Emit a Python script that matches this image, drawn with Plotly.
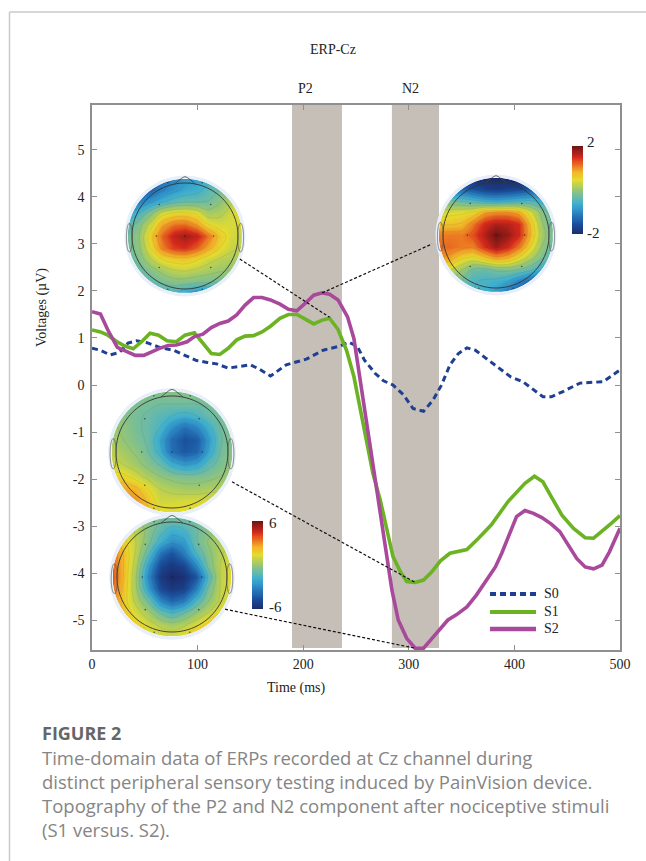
import numpy as np
import plotly.graph_objects as go

W, H = 646, 861
# ---------- data ----------
s0_t = [0,8,17,26,34,42,52,64,77,90,99,109,118,129,140,150,159,169,184,203,219,235,243,251,258,268,276,285,295,304,314,323,331,339,347,355,363,374,386,396,408,418,427,435,446,462,473,484,500]
s0_v = [0.78,0.74,0.64,0.69,0.89,0.94,0.90,0.80,0.74,0.62,0.52,0.48,0.45,0.36,0.40,0.43,0.33,0.19,0.43,0.55,0.74,0.83,0.91,0.83,0.53,0.25,0.09,0.0,-0.21,-0.50,-0.56,-0.32,0.0,0.43,0.67,0.79,0.74,0.55,0.36,0.18,0.07,-0.09,-0.25,-0.25,-0.14,0.04,0.06,0.07,0.32]
s1_t = [0,8,15,23,31,39,47,55,63,71,80,88,97,105,113,121,129,137,145,153,161,169,178,186,194,202,210,218,225,233,241,248,254,260,266,273,279,285,292,298,306,314,322,330,339,355,366,378,394,410,419,427,435,445,456,467,475,483,492,500]
s1_v = [1.17,1.13,1.06,0.93,0.83,0.77,0.92,1.10,1.06,0.94,0.92,1.06,1.11,0.89,0.67,0.65,0.78,0.96,1.04,1.05,1.13,1.25,1.42,1.50,1.50,1.40,1.30,1.38,1.42,1.18,0.74,0.18,-0.53,-1.24,-1.88,-2.45,-3.08,-3.65,-3.97,-4.18,-4.20,-4.15,-3.97,-3.74,-3.58,-3.50,-3.26,-2.98,-2.48,-2.09,-1.94,-2.06,-2.38,-2.77,-3.05,-3.25,-3.26,-3.12,-2.94,-2.78]
s2_t = [0,8,15,24,33,41,49,56,64,72,80,90,97,105,113,121,129,137,145,153,161,169,178,186,194,202,210,218,225,233,242,248,252,258,265,271,278,284,290,298,306,314,322,330,337,345,355,364,374,382,388,394,402,410,418,426,435,443,451,459,467,475,483,490,495,500]
s2_v = [1.56,1.51,1.17,0.80,0.71,0.63,0.63,0.71,0.78,0.84,0.85,0.92,1.03,1.08,1.22,1.31,1.36,1.49,1.70,1.86,1.86,1.81,1.72,1.61,1.58,1.74,1.91,1.96,1.93,1.81,1.45,0.99,0.39,-0.53,-1.53,-2.52,-3.58,-4.36,-5.0,-5.39,-5.60,-5.60,-5.39,-5.18,-5.0,-4.89,-4.72,-4.47,-4.15,-3.87,-3.58,-3.23,-2.80,-2.67,-2.73,-2.82,-2.96,-3.12,-3.40,-3.69,-3.87,-3.91,-3.83,-3.55,-3.30,-3.05]
x_ticks = [0,100,200,300,400,500]
y_ticks = [-5,-4,-3,-2,-1,0,1,2,3,4,5]
y_labels = ["-5","-4","-3","-2","-1","0","1","2","3","4","5"]
p2_band = [189.4,236.7]
n2_band = [284,328.6]

# topographies, percent of colour limit, rows from front (top) to back
topo_p2_s1 = [
[-70,-72,-68,-60,-50,-42,-38,-30,-20,-10,-5],
[-78,-72,-65,-52,-42,-34,-30,-20,-12,0,8],
[-65,-52,-40,-28,-18,-14,-14,-12,-2,10,18],
[-38,-25,-5,18,26,28,22,5,8,18,22],
[-20,-6,18,45,58,60,48,26,20,20,20],
[-12,0,32,60,80,88,80,58,32,20,14],
[-12,-2,26,54,70,74,62,44,26,16,12],
[-16,-8,12,26,32,34,28,18,12,8,5],
[-25,-16,-6,4,12,14,10,6,2,0,-5],
[-40,-30,-18,-10,-5,-5,-8,-10,-12,-15,-20],
[-50,-45,-35,-25,-25,-35,-45,-45,-40,-35,-30]]
topo_p2_s2 = [
[-70,-80,-90,-95,-100,-100,-100,-100,-95,-85,-70],
[-45,-55,-65,-75,-85,-88,-85,-80,-70,-60,-50],
[-8,-12,-16,-22,-30,-34,-30,-26,-24,-30,-35],
[15,20,22,26,45,50,50,42,18,-5,-20],
[35,35,38,56,76,84,82,74,34,2,-15],
[55,56,56,66,84,100,90,76,38,6,-12],
[60,60,56,54,74,88,76,56,26,0,-15],
[50,45,28,22,34,46,40,24,6,-10,-25],
[30,15,2,-14,-16,-10,-8,-12,-20,-35,-45],
[10,0,-12,-24,-26,-28,-35,-50,-65,-70,-70],
[5,-5,-15,-25,-30,-40,-55,-70,-85,-85,-80]]
topo_n2_s1 = [
[-5,-5,-5,-5,-5,-5,-5,-5,-5,-5,-5],
[0,-5,-8,-10,-12,-12,-12,-12,-10,-8,-5],
[0,-5,-10,-14,-20,-25,-30,-25,-15,-10,-5],
[2,-2,-10,-15,-25,-45,-60,-50,-30,-12,-5],
[5,0,-8,-14,-35,-62,-75,-70,-40,-14,-5],
[12,5,-2,-12,-30,-60,-72,-65,-35,-12,-3],
[18,12,5,-5,-14,-30,-40,-35,-18,-8,0],
[30,28,18,8,0,-5,-8,-8,-5,0,5],
[45,45,40,25,12,8,5,5,8,10,12],
[55,55,50,35,18,18,20,20,20,20,20],
[60,58,50,40,25,25,25,25,25,25,25]]
topo_n2_s2 = [
[10,5,0,-5,-10,-10,-10,-8,-5,-2,0],
[30,20,10,-5,-18,-30,-25,-14,-5,2,5],
[45,28,12,-8,-30,-45,-40,-14,0,8,12],
[58,35,10,-20,-60,-75,-55,-25,-5,10,18],
[62,35,5,-40,-80,-90,-82,-50,-10,12,22],
[65,35,0,-50,-90,-100,-95,-75,-25,12,24],
[60,32,2,-40,-80,-90,-85,-55,-12,12,24],
[55,30,8,-14,-50,-65,-55,-25,-2,14,26],
[50,35,18,5,-14,-25,-14,0,12,24,35],
[55,45,30,18,10,5,10,20,35,50,55],
[60,50,40,28,20,20,25,40,55,60,60]]

# connectors: (time, voltage) on the main axes
conn_x = [[140,225],[218,322],[132.6,306],[126,306]]
conn_y = [[2.68,1.44],[1.96,3.0],[-2.06,-4.2],[-4.77,-5.6]]

cscale = [[0,"#1b2a6b"],[0.12,"#1a4f9c"],[0.25,"#2b86c5"],[0.35,"#3fb0cf"],[0.43,"#6dbba5"],
          [0.52,"#a0c96a"],[0.62,"#e6dc2e"],[0.70,"#f2b72a"],[0.78,"#ec7b22"],[0.87,"#d92a1c"],[1,"#6e1414"]]
BLUE, GREEN, PURPLE = "#1f3f93", "#6cb324", "#a8499c"
BAND = "#c5bfb8"

SERIF = "Liberation Serif"
def X(p): return p / W
def Y(p): return 1 - p / H

fig = go.Figure()
fig.add_trace(go.Scatter(x=s0_t, y=s0_v, name="S0", mode="lines", showlegend=False, line=dict(color=BLUE, width=3, dash="6px,4px")))
fig.add_trace(go.Scatter(x=s1_t, y=s1_v, name="S1", mode="lines", showlegend=False, line=dict(color=GREEN, width=3.6)))
fig.add_trace(go.Scatter(x=s2_t, y=s2_v, name="S2", mode="lines", showlegend=False, line=dict(color=PURPLE, width=3.6)))

L, R, T, B = 92, 620, 105, 650
axis_style = dict(showgrid=False, zeroline=False, showline=True, linecolor="#8f8f8f", linewidth=1.5,
                  ticks="inside", ticklen=5, tickcolor="#8f8f8f", mirror="ticks", automargin=False,
                  tickfont=dict(family=SERIF, size=14, color="#222"))
layout = dict(
    width=W, height=H, margin=dict(l=0, r=0, t=0, b=0, pad=0, autoexpand=False), paper_bgcolor="white", plot_bgcolor="rgba(0,0,0,0)",
    showlegend=False,
    xaxis=dict(domain=[X(L), X(R)], range=[0, 500], tickvals=x_ticks, **axis_style),
    yaxis=dict(domain=[Y(B), Y(T)], range=[-5.638, 5.957], tickvals=y_ticks, ticktext=y_labels, ticklabelstandoff=3, **axis_style),
)
shapes = []
annots = []

# page frame
shapes.append(dict(type="line", xref="paper", yref="paper", x0=X(9.5), x1=1, y0=Y(12), y1=Y(12), line=dict(color="#c9c9c9", width=1.5)))
shapes.append(dict(type="line", xref="paper", yref="paper", x0=X(9.5), x1=X(9.5), y0=Y(12), y1=0, line=dict(color="#c9c9c9", width=1.5)))

# component bands
for b in (p2_band, n2_band):
    shapes.append(dict(type="rect", xref="x", yref="paper", x0=b[0], x1=b[1], y0=Y(648), y1=Y(T), layer="below",
                       fillcolor=BAND, line=dict(width=0)))

def poly(pts):
    return "M" + "L".join(f"{X(a):.5f},{Y(b):.5f}" for a, b in pts) + "Z"

theta = np.linspace(0, 2 * np.pi, 121)[:-1]
def circle(cx, cy, r):
    return poly([(cx + r * np.cos(t), cy + r * np.sin(t)) for t in theta])

grid = np.linspace(-1, 1, 11)
dots_x = [0, -.45, .45, -.5, .5, -.45, .45, -.3, .3, -.3, .3]
dots_y = [0, .55, .55, 0, 0, -.55, -.55, .93, .93, -.93, -.93]

maps = [(topo_p2_s1, 2, 185, 236, 53), (topo_p2_s2, 2, 496, 235, 53), (topo_n2_s1, 6, 172, 452, 56), (topo_n2_s2, 6, 172, 577, 55)]
for i, (pct, lim, cx, cy, r) in enumerate(maps):
    n = i + 2
    cr = r * 1.08
    z = (np.array(pct) / 100 * lim)[::-1]
    ax = dict(xaxis=f"x{n}", yaxis=f"y{n}", hoverinfo="skip", showscale=False, showlegend=False)
    fig.add_trace(go.Heatmap(x=grid, y=grid, z=z, zmin=-lim, zmax=lim, colorscale=cscale, zsmooth="best", **ax))
    fig.add_trace(go.Contour(x=grid, y=grid, z=z, zmin=-lim, zmax=lim, colorscale=cscale, autocontour=False,
                             contours=dict(coloring="none", start=-lim, end=lim, size=lim / 8),
                             line=dict(color="rgba(50,60,50,0.18)", width=0.5, smoothing=1), **ax))
    fig.add_trace(go.Scatter(x=dots_x, y=dots_y, mode="markers", marker=dict(size=1.6, color="rgba(30,30,30,.7)"),
                             xaxis=f"x{n}", yaxis=f"y{n}", showlegend=False, hoverinfo="skip"))
    hidden = dict(visible=False, range=[-1, 1], fixedrange=True)
    layout[f"xaxis{n}"] = dict(domain=[X(cx - cr), X(cx + cr)], anchor=f"y{n}", **hidden)
    layout[f"yaxis{n}"] = dict(domain=[Y(cy + cr), Y(cy - cr)], anchor=f"x{n}", **hidden)
    # mask corners of the square map, then halo and head outline
    e = cr + 1.5
    sq = [(cx - e, cy - e), (cx + e, cy - e), (cx + e, cy + e), (cx - e, cy + e)]
    shapes.append(dict(type="path", xref="paper", yref="paper", path=poly(sq) + circle(cx, cy, cr), fillcolor="white", line=dict(width=0)))
    if i == 1:  # restore the N2 band where the mask of this map clips it
        for y0, y1 in [(cy - e - 1, cy - 6), (cy + 6, cy + e + 1)]:
            shapes.append(dict(type="rect", xref="x", yref="paper", x0=n2_band[1] - 8, x1=n2_band[1],
                               y0=Y(y1), y1=Y(y0), fillcolor=BAND, line=dict(width=0)))

for i, (pct, lim, cx, cy, r) in enumerate(maps):
    cr = r * 1.08
    shapes.append(dict(type="path", xref="paper", yref="paper", path=circle(cx, cy, r * 1.14) + circle(cx, cy, cr), fillcolor="#e8eff9", line=dict(width=0)))
    shapes.append(dict(type="path", xref="paper", yref="paper", path=circle(cx, cy, r), line=dict(color="#333", width=0.9)))
    shapes.append(dict(type="path", xref="paper", yref="paper",
                       path="M" + "L".join(f"{X(cx + a * r):.5f},{Y(cy - b * r):.5f}" for a, b in [(-.2, .98), (-.05, 1.1), (0, 1.12), (.05, 1.1), (.2, .98)]),
                       line=dict(color="#444", width=0.8)))
    for s in (-1, 1):
        shapes.append(dict(type="path", xref="paper", yref="paper",
                           path=poly([(cx + s * 1.05 * r + .055 * r * np.cos(t), cy + .03 * r + .27 * r * np.sin(t)) for t in theta]),
                           line=dict(color="#555", width=0.7)))

# connectors
for xs, ys in zip(conn_x, conn_y):
    shapes.append(dict(type="line", xref="x", yref="y", x0=xs[0], x1=xs[1], y0=ys[0], y1=ys[1],
                       line=dict(color="#111", width=1.2, dash="3px,2px")))

# colour bars
for n, lim, x0, x1, y0, y1 in [(6, 2, 572, 583, 146, 234), (7, 6, 252, 263, 521, 609)]:
    levels = np.linspace(-lim, lim, 41)
    fig.add_trace(go.Heatmap(x=[0, 1], y=levels, z=[[v, v] for v in levels], zmin=-lim, zmax=lim, colorscale=cscale,
                             showscale=False, xaxis=f"x{n}", yaxis=f"y{n}", hoverinfo="skip", zsmooth="best", showlegend=False))
    layout[f"xaxis{n}"] = dict(domain=[X(x0), X(x1)], anchor=f"y{n}", visible=False, range=[0, 1])
    layout[f"yaxis{n}"] = dict(domain=[Y(y1), Y(y0)], anchor=f"x{n}", visible=False, range=[-lim, lim])

def text(t, x, y, size=14, color="#222", family=SERIF, anchor="center", angle=0):
    annots.append(dict(text=t, x=X(x), y=Y(y), xref="paper", yref="paper", showarrow=False, xanchor=anchor, yanchor="middle",
                       textangle=angle, font=dict(family=family, size=size, color=color), align="left", borderpad=0))

text("ERP-Cz", 333, 50)
text("P2", 305, 88)
text("N2", 410, 88)
text("Time (ms)", 296, 688)
text("Voltages (µV)", 42, 308, angle=-90)
text("2", 586, 142, size=15, anchor="left")
text("-2", 586, 233, size=15, anchor="left")
text("6", 268, 523, size=15, anchor="left")
text("-6", 268, 607, size=15, anchor="left")

# legend keys
for name, colr, wd, dash, yy in [("S0", BLUE, 4, "6px,4px", 594), ("S1", GREEN, 4, "solid", 612), ("S2", PURPLE, 4.6, "solid", 629)]:
    shapes.append(dict(type="line", xref="paper", yref="paper", x0=X(490), x1=X(536), y0=Y(yy), y1=Y(yy), line=dict(color=colr, width=wd, dash=dash)))
    text(name, 543, yy - 0.5, anchor="left")

SANS = "Open Sans"
text("<b>FIGURE 2</b>", 41, 733, size=18, color="#666", family=SANS, anchor="left")
for line, yy in [("Time-domain data of ERPs recorded at Cz channel during", 757),
                 ("distinct peripheral sensory testing induced by PainVision device.", 781),
                 ("Topography of the P2 and N2 component after nociceptive stimuli", 805),
                 ("(S1 versus. S2).", 829)]:
    text(line, 41, yy, size=18.5, color="#858585", family=SANS, anchor="left")

layout["shapes"] = shapes
layout["annotations"] = annots
fig.update_layout(**layout)
fig.write_html("out.html", post_script="document.body.style.margin='0';", config=dict(displayModeBar=False))
